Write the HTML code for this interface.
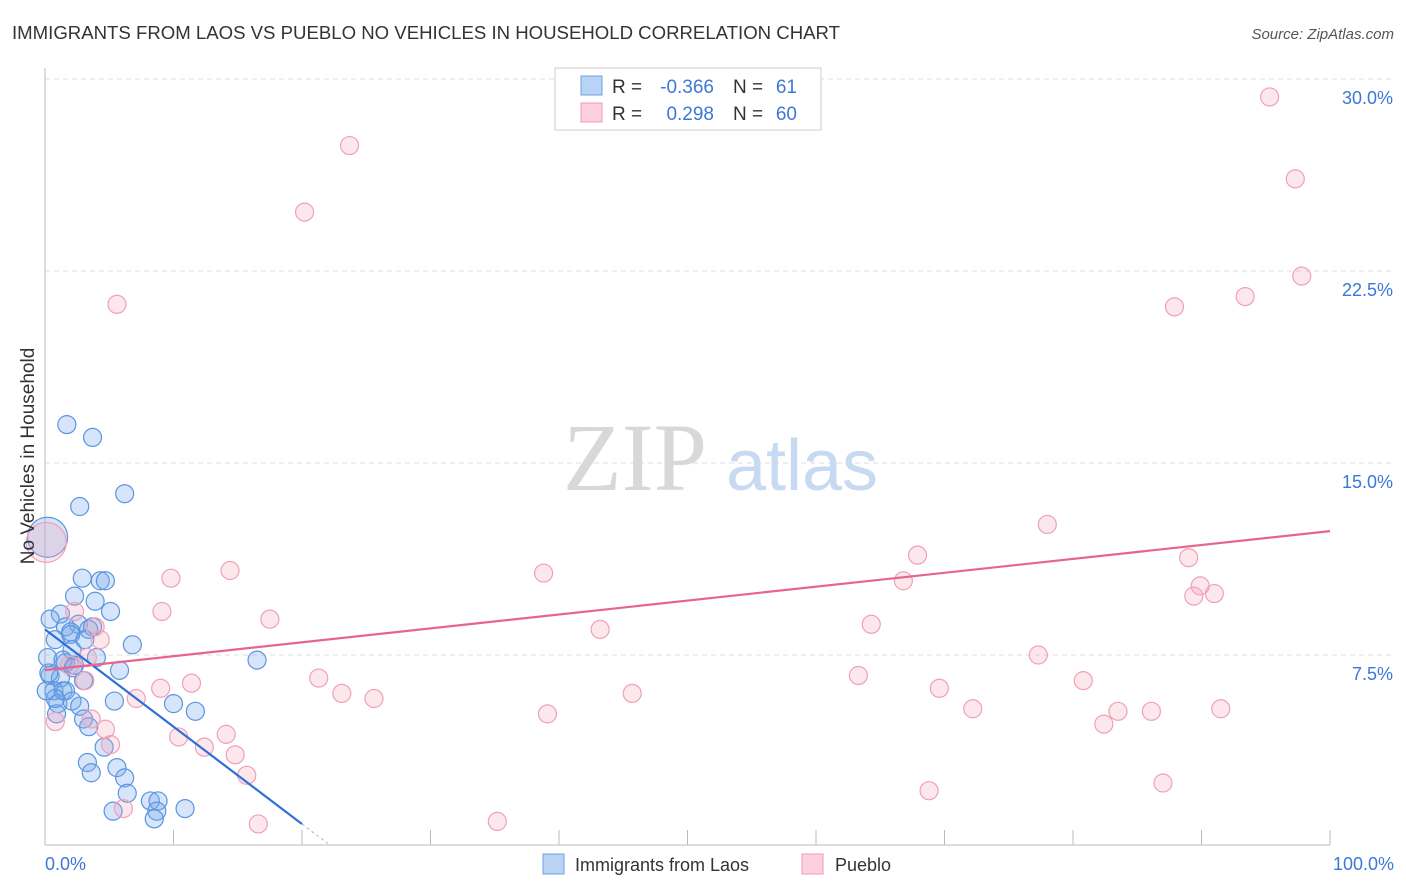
<!DOCTYPE html>
<html><head><meta charset="utf-8"><style>
body{margin:0;background:#fff;font-family:"Liberation Sans",sans-serif}
svg{display:block}
</style></head><body>
<svg id="chart" width="1406" height="892" xmlns="http://www.w3.org/2000/svg">
<text x="12" y="39" font-size="18" fill="#333" textLength="828" lengthAdjust="spacingAndGlyphs">IMMIGRANTS FROM LAOS VS PUEBLO NO VEHICLES IN HOUSEHOLD CORRELATION CHART</text>
<text x="1394" y="39" font-size="15" fill="#555" font-style="italic" text-anchor="end">Source: ZipAtlas.com</text>
<g id="grid"></g>
<g>
<text x="635" y="490" font-size="96" fill="#d8d8d8" text-anchor="middle" font-family="Liberation Serif, serif">ZIP</text>
<text x="802" y="490" font-size="72" fill="#c8daf2" text-anchor="middle">atlas</text>
</g>
<line x1="45" y1="68" x2="45" y2="845" stroke="#bbb"/>
<line x1="45" y1="845" x2="1330" y2="845" stroke="#bbb"/>
<g id="ticks"></g>
<g id="points"></g>
<g id="lines"></g>
<text transform="translate(34,456) rotate(-90)" font-size="19" fill="#333" text-anchor="middle">No Vehicles in Household</text>
<text x="45" y="870" font-size="18" fill="#3b78d8">0.0%</text>
<text x="1394" y="870" font-size="18" fill="#3b78d8" text-anchor="end">100.0%</text>
<g>
<rect x="555" y="68" width="266" height="62" fill="#fff" stroke="#ccc"/>
<rect x="581" y="76" width="21" height="19" fill="#b9d3f5" stroke="#6fa0e6"/>
<rect x="581" y="103" width="21" height="19" fill="#fcd0dc" stroke="#f29ab4"/>
<text x="612" y="93" font-size="19" fill="#333">R =</text>
<text x="714" y="93" font-size="19" fill="#3b78d8" text-anchor="end">-0.366</text>
<text x="733" y="93" font-size="19" fill="#333">N =</text>
<text x="797" y="93" font-size="19" fill="#3b78d8" text-anchor="end">61</text>
<text x="612" y="120" font-size="19" fill="#333">R =</text>
<text x="714" y="120" font-size="19" fill="#3b78d8" text-anchor="end">0.298</text>
<text x="733" y="120" font-size="19" fill="#333">N =</text>
<text x="797" y="120" font-size="19" fill="#3b78d8" text-anchor="end">60</text>
</g>
<g>
<rect x="543" y="854" width="21" height="20" fill="#b9d3f5" stroke="#6fa0e6"/>
<text x="575" y="871" font-size="18" fill="#333">Immigrants from Laos</text>
<rect x="802" y="854" width="21" height="20" fill="#fcd0dc" stroke="#f29ab4"/>
<text x="835" y="871" font-size="18" fill="#333">Pueblo</text>
</g>
</svg>
<script>
const yTicks=[7.5,15,22.5,30];
const yTickLabels=["7.5%","15.0%","22.5%","30.0%"];
const xTicks=[10,20,30,40,50,60,70,80,90,100];
const laosX=[1.7,3.7,6.2,2.7,0.2,2.9,4.3,4.7,2.3,3.9,5.1,1.2,0.4,2.6,1.6,3.7,2.0,3.4,6.8,0.8,2.0,4.0,0.2,1.6,2.3,5.8,16.5,0.4,1.2,3.0,0.7,1.4,1.0,5.4,10.0,11.7,0.9,3.0,3.4,4.6,3.3,5.6,3.6,6.2,6.4,5.3,8.2,8.8,8.7,10.9,8.5,1.6,2.1,2.7,2.1,3.1,1.4,2.2,0.8,0.1,0.3];
const laosY=[16.5,16.0,13.8,13.3,12.1,10.5,10.4,10.4,9.8,9.6,9.2,9.1,8.9,8.7,8.6,8.6,8.4,8.5,7.9,8.1,8.3,7.4,7.4,7.2,7.1,6.9,7.3,6.7,6.6,6.5,6.1,6.1,5.6,5.7,5.6,5.3,5.2,5.0,4.7,3.9,3.3,3.1,2.9,2.7,2.1,1.4,1.8,1.8,1.4,1.5,1.1,6.1,5.7,5.5,7.7,8.1,7.3,7.0,5.8,6.1,6.8];
const laosR=[9,9,9,9,20,9,9,9,9,9,9,9,9,9,9,9,9,9,9,9,9,9,9,9,9,9,9,9,9,9,9,9,9,9,9,9,9,9,9,9,9,9,9,9,9,9,9,9,9,9,9,9,9,9,9,9,9,9,9,9,9];
const puebloX=[95.3,97.3,23.7,20.2,97.8,93.4,87.9,5.6,78.0,67.9,89.0,0.1,38.8,9.8,14.4,66.8,89.9,89.4,91.0,9.1,17.5,43.2,64.3,77.3,21.3,63.3,80.8,11.4,9.0,23.1,25.6,45.7,69.6,7.1,72.2,83.5,86.1,91.5,39.1,82.4,3.6,0.8,14.1,4.7,10.4,5.1,12.4,14.8,15.7,87.0,68.8,6.1,35.2,16.6,4.3,2.3,3.9,1.9,3.1,3.3];
const puebloY=[29.3,26.1,27.4,24.8,22.3,21.5,21.1,21.2,12.6,11.4,11.3,11.9,10.7,10.5,10.8,10.4,10.2,9.8,9.9,9.2,8.9,8.5,8.7,7.5,6.6,6.7,6.5,6.4,6.2,6.0,5.8,6.0,6.2,5.8,5.4,5.3,5.3,5.4,5.2,4.8,5.0,4.9,4.4,4.6,4.3,4.0,3.9,3.6,2.8,2.5,2.2,1.5,1.0,0.9,8.1,9.2,8.6,7.1,6.5,7.4];
const puebloR=[9,9,9,9,9,9,9,9,9,9,9,20,9,9,9,9,9,9,9,9,9,9,9,9,9,9,9,9,9,9,9,9,9,9,9,9,9,9,9,9,9,9,9,9,9,9,9,9,9,9,9,9,9,9,9,9,9,9,9,9];
const laosTrend=[8.5,-3.8];
const puebloTrend=[6.91,0.543];
const laosTrendEnd=20;
const X=v=>45+v*12.85, Y=v=>847-v*25.6;
const NS="http://www.w3.org/2000/svg";
function mk(t,a,p){const e=document.createElementNS(NS,t);for(const k in a)e.setAttribute(k,a[k]);p.appendChild(e);return e;}
const grid=document.getElementById('grid'),ticks=document.getElementById('ticks');
yTicks.forEach((v,i)=>{
 const l=mk('line',{x1:45,x2:1394,y1:Y(v),y2:Y(v),stroke:'#ddd','stroke-dasharray':'5,4'},grid);
 
 
 const t=mk('text',{x:1393,y:Y(v)+25,'font-size':18,fill:'#3b78d8','text-anchor':'end'},ticks);
 t.textContent=yTickLabels[i];
 
 
});
xTicks.forEach(v=>{
 const l=mk('line',{x1:X(v),x2:X(v),y1:830,y2:845,stroke:'#bbb'},ticks);
 
 
});
const pts=document.getElementById('points');
laosX.forEach((x,i)=>{
 const c=mk('circle',{cx:X(x),cy:Y(laosY[i]),r:laosR[i],fill:'rgba(120,170,235,0.3)',stroke:'#5b95e0','stroke-width':1.2},pts);
 
 
});
puebloX.forEach((x,i)=>{
 const c=mk('circle',{cx:X(x),cy:Y(puebloY[i]),r:puebloR[i],fill:'rgba(245,160,185,0.25)',stroke:'#f0a0b8','stroke-width':1.2},pts);
 
 
});
const ln=document.getElementById('lines');
const ly=x=>laosTrend[0]+laosTrend[1]*x/10, py=x=>puebloTrend[0]+puebloTrend[1]*x/10;
let a=mk('line',{x1:X(0),y1:Y(ly(0)),x2:X(laosTrendEnd),y2:Y(ly(laosTrendEnd)),stroke:'#2f6fd6','stroke-width':2.2},ln);


let b=mk('line',{x1:X(laosTrendEnd),y1:Y(ly(laosTrendEnd)),x2:X(22),y2:Y(ly(22)),stroke:'#9bb8e8','stroke-width':1,'stroke-dasharray':'3,3'},ln);


let c=mk('line',{x1:X(0),y1:Y(py(0)),x2:X(100),y2:Y(py(100)),stroke:'#e8648c','stroke-width':2.2},ln);


</script>
</body></html>
